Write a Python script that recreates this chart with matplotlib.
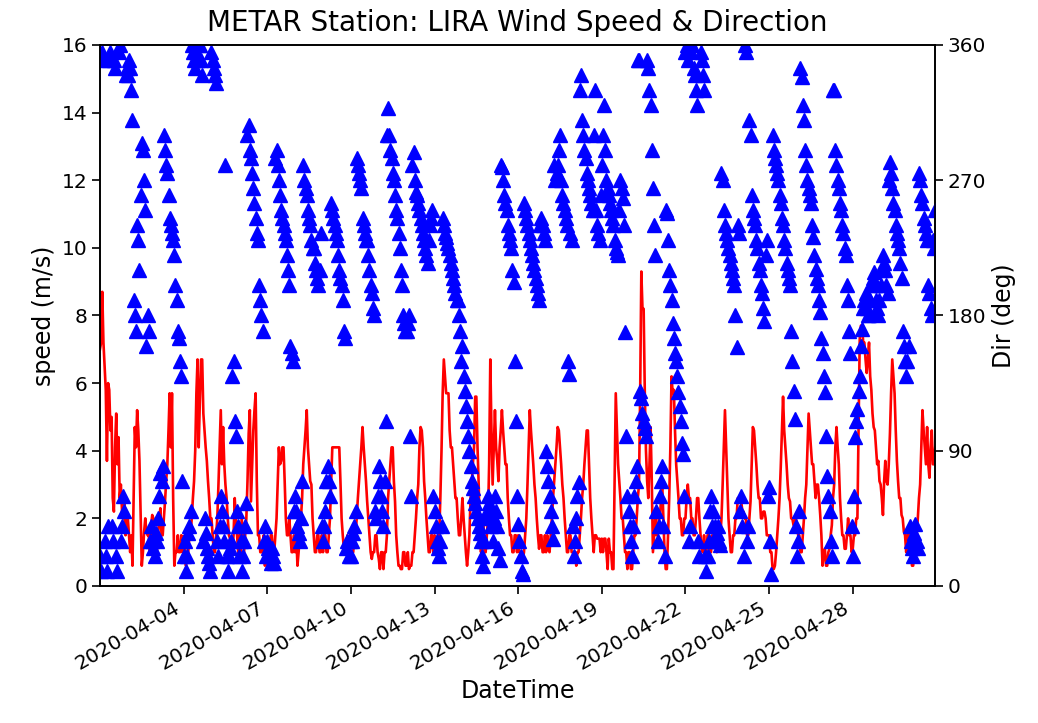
import matplotlib
matplotlib.use("Agg")
import matplotlib.pyplot as plt
import matplotlib.dates as mdates
import pandas as pd

# hourly samples from 2020-04-01 00:00, one row per day
speed = [
    7.0, 7.2, 8.7, 7.2, 6.5, 5.8, 3.7, 6.0, 5.8, 4.6, 5.0, 2.6, 2.2, 4.1, 5.1, 3.6, 4.4, 2.6, 3.0, 2.2, 2.0, 2.6, 1.5, 2.0,  # 04-01
    2.0, 1.5, 1.0, 1.5, 0.6, 2.6, 4.7, 4.1, 5.2, 4.6, 3.7, 2.1, 0.6, 1.0, 1.6, 2.0, 1.6, 1.5, 1.5, 1.0, 1.8, 2.1, 2.0, 1.5,  # 04-02
    1.5, 1.0, 1.5, 2.0, 2.3, 1.5, 1.5, 2.0, 2.5, 3.1, 3.6, 4.6, 5.7, 4.1, 5.7, 2.6, 0.6, 1.0, 1.0, 1.5, 1.0, 1.0, 1.5, 1.0,  # 04-03
    1.0, 1.5, 0.6, 1.0, 1.0, 1.5, 1.5, 2.0, 2.6, 3.1, 4.0, 5.7, 6.7, 4.1, 5.5, 6.7, 6.7, 5.1, 4.6, 4.1, 3.7, 3.1, 2.6, 2.0,  # 04-04
    2.0, 1.5, 1.0, 1.0, 1.5, 2.0, 3.0, 4.1, 5.2, 3.6, 4.7, 3.6, 3.0, 2.6, 2.0, 1.5, 1.4, 1.0, 1.0, 1.5, 2.6, 2.0, 1.5, 1.0,  # 04-05
    1.5, 1.0, 2.0, 1.5, 1.0, 1.5, 2.0, 3.1, 4.5, 5.2, 2.5, 3.6, 4.6, 5.2, 5.7, 3.1, 1.5, 1.5, 1.0, 1.0, 1.0, 1.5, 0.6, 1.0,  # 04-06
    0.6, 1.0, 1.0, 1.5, 1.5, 1.0, 1.0, 1.5, 2.0, 3.1, 4.1, 3.6, 3.7, 4.1, 4.1, 3.1, 2.0, 1.5, 1.5, 2.0, 1.5, 1.0, 1.0, 1.5,  # 04-07
    1.0, 1.5, 0.6, 1.0, 1.5, 2.0, 2.6, 3.6, 4.1, 4.6, 5.2, 4.1, 3.6, 3.1, 3.0, 2.0, 1.5, 1.0, 1.0, 1.5, 1.5, 1.0, 1.0, 1.5,  # 04-08
    1.0, 1.5, 1.5, 1.0, 1.0, 1.5, 2.0, 3.1, 4.1, 4.1, 4.1, 4.1, 4.1, 4.1, 4.1, 3.1, 2.0, 1.5, 1.1, 1.0, 1.0, 1.5, 1.0, 1.0,  # 04-09
    1.0, 1.0, 1.0, 1.5, 1.5, 2.0, 2.6, 3.1, 3.6, 4.1, 4.7, 4.1, 3.6, 3.1, 2.5, 2.0, 1.5, 1.0, 0.8, 1.0, 1.0, 1.5, 1.5, 1.0,  # 04-10
    0.8, 0.5, 1.0, 1.0, 0.5, 1.0, 1.0, 1.5, 2.6, 3.1, 3.6, 4.1, 4.1, 3.1, 2.5, 1.5, 1.0, 0.6, 0.6, 0.5, 0.5, 1.0, 1.0, 0.6,  # 04-11
    0.6, 1.0, 0.5, 0.6, 0.6, 1.0, 1.0, 1.5, 2.0, 2.6, 3.0, 4.1, 4.7, 4.6, 4.1, 3.1, 2.6, 2.0, 1.5, 1.0, 1.0, 1.5, 1.5, 1.0,  # 04-12
    1.5, 1.0, 1.0, 1.5, 1.5, 2.6, 4.0, 5.7, 6.7, 6.2, 5.7, 5.7, 5.7, 4.6, 4.1, 4.1, 3.6, 3.1, 2.6, 2.6, 2.0, 1.5, 1.5, 2.0,  # 04-13
    2.6, 2.0, 1.5, 1.0, 0.6, 1.0, 1.5, 2.6, 3.0, 3.6, 4.1, 5.6, 5.6, 4.1, 3.0, 1.5, 1.0, 1.5, 2.0, 1.0, 1.0, 1.5, 2.0, 3.6,  # 04-14
    6.7, 4.6, 3.0, 4.1, 5.2, 4.1, 3.7, 3.1, 4.1, 4.6, 5.2, 4.6, 4.1, 3.6, 3.6, 2.6, 2.0, 1.5, 1.5, 1.0, 1.0, 1.5, 1.5, 1.0,  # 04-15
    1.5, 1.0, 1.0, 0.8, 0.8, 1.0, 1.5, 2.0, 3.0, 4.1, 5.2, 4.6, 4.1, 3.6, 3.0, 2.6, 2.0, 1.5, 1.1, 1.5, 1.5, 1.0, 1.0, 1.5,  # 04-16
    1.0, 1.5, 1.1, 1.0, 1.5, 2.0, 2.6, 3.1, 3.6, 4.1, 4.7, 4.6, 4.1, 3.6, 3.0, 2.6, 2.0, 1.5, 1.0, 1.0, 1.5, 1.5, 1.0, 1.0,  # 04-17
    1.0, 1.0, 0.6, 1.0, 1.0, 1.5, 2.0, 2.6, 3.0, 3.6, 4.1, 4.6, 4.6, 3.6, 2.6, 2.0, 1.5, 1.0, 1.5, 1.5, 1.4, 1.4, 1.4, 1.0,  # 04-18
    1.4, 1.0, 1.4, 1.4, 1.0, 0.5, 1.4, 1.0, 1.0, 0.5, 0.5, 3.1, 5.7, 4.6, 3.6, 3.1, 2.6, 2.0, 2.0, 1.5, 1.0, 1.0, 0.5, 1.0,  # 04-19
    1.0, 0.5, 0.5, 1.0, 1.5, 1.5, 2.0, 2.6, 3.0, 5.7, 9.3, 8.2, 8.2, 5.7, 4.0, 3.1, 2.6, 3.6, 4.7, 3.1, 1.0, 1.5, 2.0, 1.5,  # 04-20
    1.5, 2.0, 2.0, 2.6, 3.0, 2.0, 1.0, 0.5, 0.5, 1.5, 2.6, 4.1, 6.2, 5.7, 5.8, 4.6, 3.6, 3.1, 2.6, 2.0, 2.0, 1.5, 1.5, 2.0,  # 04-21
    2.0, 2.6, 3.0, 2.6, 2.6, 2.0, 2.0, 1.5, 1.5, 2.0, 2.6, 2.6, 2.0, 1.5, 1.1, 1.0, 1.5, 1.0, 1.0, 1.5, 1.5, 1.0, 1.0, 1.5,  # 04-22
    1.2, 1.5, 1.5, 1.0, 1.2, 1.5, 1.5, 2.0, 3.0, 4.1, 5.2, 4.1, 3.0, 2.0, 1.5, 1.0, 1.0, 1.5, 1.5, 2.0, 2.0, 2.6, 2.6, 2.5,  # 04-23
    2.5, 2.2, 2.2, 2.0, 2.0, 1.5, 1.5, 2.0, 2.5, 3.6, 4.7, 4.6, 4.1, 3.6, 3.0, 2.6, 2.6, 2.0, 2.0, 2.2, 2.2, 2.0, 1.5, 1.5,  # 04-24
    1.5, 1.0, 1.0, 0.5, 0.5, 0.6, 1.0, 1.5, 2.0, 2.6, 3.5, 4.6, 5.6, 4.6, 4.1, 3.6, 3.0, 2.6, 2.5, 2.0, 2.0, 1.8, 1.8, 2.0,  # 04-25
    1.8, 1.5, 1.5, 1.0, 1.0, 1.5, 2.0, 2.6, 3.0, 4.1, 5.1, 4.6, 4.1, 3.6, 3.6, 3.1, 2.6, 3.0, 3.0, 2.6, 2.1, 1.5, 0.6, 1.0,  # 04-26
    1.1, 0.6, 0.6, 1.0, 1.1, 1.5, 1.8, 2.6, 3.0, 4.1, 4.7, 4.1, 3.6, 2.6, 2.0, 1.5, 1.5, 1.1, 1.1, 1.5, 2.0, 1.5, 1.5, 1.0,  # 04-27
    1.1, 1.5, 1.5, 2.0, 2.0, 4.6, 7.3, 7.7, 7.7, 7.2, 7.2, 6.7, 6.3, 6.7, 7.2, 6.2, 5.8, 5.1, 4.7, 4.6, 4.1, 3.6, 3.7, 3.1,  # 04-28
    3.0, 2.6, 2.1, 3.1, 3.7, 3.1, 3.0, 3.6, 4.5, 5.7, 6.7, 6.2, 5.7, 4.6, 3.7, 3.1, 2.6, 2.6, 2.1, 2.0, 1.6, 1.5, 1.0, 1.5,  # 04-29
    1.6, 1.0, 1.0, 0.6, 0.6, 1.0, 1.0, 1.5, 2.0, 2.6, 3.0, 4.1, 5.2, 4.6, 4.1, 3.6, 4.7, 3.6, 3.2, 4.1, 4.6, 3.6, 3.6, 4.1,  # 04-30
]

direction = [
    20, 10, 355, 350, 30, 20, 10, 40, 350, 355, 40, 30, 350, 345, 20, 10, 355, 360, 30, 40, 60, 50, 340, 345,  # 04-01
    340, 350, 345, 330, 310, 190, 180, 170, 240, 230, 210, 260, 295, 290, 270, 250, 160, 180, 170, 30, 40, 30, 25, 20,  # 04-02
    35, 30, 45, 60, 75, 70, 80, 300, 290, 280, 275, 260, 245, 240, 235, 230, 220, 200, 190, 170, 165, 150, 140, 70,  # 04-03
    20, 30, 10, 20, 35, 40, 50, 360, 355, 350, 345, 355, 350, 360, 360, 350, 340, 30, 45, 35, 25, 20, 15, 10,  # 04-04
    355, 350, 345, 340, 335, 30, 20, 40, 60, 50, 40, 30, 280, 20, 10, 20, 25, 30, 140, 150, 110, 100, 50, 40,  # 04-05
    20, 30, 10, 20, 30, 40, 55, 300, 307, 290, 285, 275, 265, 255, 245, 235, 230, 200, 190, 180, 170, 30, 40, 20,  # 04-06
    30, 25, 20, 15, 25, 20, 15, 285, 290, 280, 270, 260, 250, 245, 240, 235, 230, 220, 210, 200, 160, 155, 150, 50,  # 04-07
    60, 50, 40, 35, 30, 45, 70, 280, 270, 265, 260, 250, 245, 240, 230, 225, 225, 215, 210, 205, 200, 210, 235, 40,  # 04-08
    30, 40, 50, 70, 80, 70, 60, 255, 250, 245, 240, 235, 230, 220, 210, 205, 200, 190, 170, 165, 25, 30, 20, 30,  # 04-09
    20, 30, 35, 40, 50, 285, 280, 275, 270, 265, 245, 240, 235, 230, 230, 220, 210, 200, 195, 185, 180, 50, 45, 60,  # 04-10
    80, 70, 60, 50, 40, 70, 110, 300, 318, 300, 290, 285, 275, 270, 260, 250, 245, 235, 225, 210, 200, 180, 175, 170,  # 04-11
    170, 175, 180, 100, 60, 280, 289, 270, 262, 260, 255, 250, 245, 240, 235, 230, 225, 220, 215, 230, 240, 245, 250, 60,  # 04-12
    50, 40, 30, 25, 20, 30, 40, 245, 240, 235, 232, 228, 225, 220, 215, 210, 205, 200, 195, 190, 190, 180, 170, 150,  # 04-13
    160, 140, 130, 120, 110, 100, 90, 80, 70, 65, 60, 55, 50, 45, 40, 35, 30, 20, 13, 30, 45, 50, 60, 55,  # 04-14
    50, 40, 30, 45, 60, 50, 40, 25, 17, 280, 279, 270, 260, 255, 250, 240, 235, 230, 225, 210, 202, 150, 110, 60,  # 04-15
    41, 30, 20, 10, 8, 255, 250, 245, 240, 235, 230, 225, 220, 215, 210, 205, 200, 195, 190, 240, 245, 240, 235, 230,  # 04-16
    90, 80, 70, 60, 50, 40, 31, 280, 270, 275, 280, 290, 300, 270, 260, 255, 250, 245, 240, 150, 141, 235, 230, 40,  # 04-17
    20, 30, 45, 60, 69, 330, 340, 310, 300, 290, 285, 275, 270, 265, 260, 255, 250, 300, 330, 250, 240, 235, 230, 260,  # 04-18
    280, 300, 320, 290, 270, 265, 260, 255, 250, 245, 240, 230, 225, 222, 220, 250, 270, 265, 258, 240, 169, 100, 60, 50,  # 04-19
    40, 30, 20, 40, 60, 70, 80, 350, 350, 130, 125, 115, 110, 105, 100, 350, 345, 330, 320, 290, 265, 240, 220, 50,  # 04-20
    30, 40, 60, 70, 80, 40, 20, 250, 248, 230, 210, 200, 190, 175, 165, 155, 150, 140, 129, 120, 110, 95, 88, 60,  # 04-21
    355, 360, 350, 30, 40, 355, 360, 345, 340, 330, 320, 30, 20, 355, 350, 340, 330, 20, 10, 20, 30, 50, 60, 40,  # 04-22
    50, 40, 30, 35, 40, 30, 27, 275, 270, 250, 240, 235, 230, 225, 220, 215, 210, 205, 200, 180, 159, 240, 235, 50,  # 04-23
    60, 40, 20, 360, 355, 30, 40, 310, 300, 260, 250, 245, 240, 230, 225, 215, 210, 200, 195, 185, 176, 220, 230, 60,  # 04-24
    66, 30, 8, 300, 290, 285, 280, 275, 270, 260, 255, 245, 240, 230, 225, 215, 210, 205, 200, 170, 150, 130, 111, 40,  # 04-25
    20, 30, 50, 345, 339, 320, 310, 290, 280, 270, 265, 260, 255, 240, 232, 220, 211, 205, 200, 190, 182, 165, 155, 140,  # 04-26
    129, 100, 73, 60, 50, 30, 20, 330, 330, 290, 280, 270, 265, 255, 250, 240, 235, 225, 220, 200, 190, 170, 155, 40,  # 04-27
    20, 60, 99, 110, 118, 130, 140, 160, 171, 185, 190, 195, 185, 180, 180, 190, 200, 205, 209, 200, 190, 185, 180, 190,  # 04-28
    200, 210, 220, 215, 210, 200, 195, 270, 282, 275, 265, 255, 250, 240, 235, 230, 225, 215, 205, 170, 160, 150, 140, 150,  # 04-29
    160, 40, 30, 25, 20, 35, 41, 30, 25, 275, 270, 260, 255, 245, 240, 235, 230, 200, 195, 185, 180, 230, 225, 250,  # 04-30
]

times = pd.date_range("2020-04-01 00:00", periods=len(speed), freq="h")

fig, ax = plt.subplots(figsize=(10.38, 7.23), dpi=100)
fig.subplots_adjust(left=0.0963, right=0.901, bottom=0.1895, top=0.9378)

ax.plot(times, speed, "r-", lw=1.9)
ax.set_ylim(0, 16)
ax.set_xlim(times[0], times[-1])
ax.set_ylabel("speed (m/s)", fontsize=17)
ax.set_xlabel("DateTime", fontsize=17)
ax.set_title("METAR Station: LIRA Wind Speed & Direction", fontsize=20, pad=10)

ax.xaxis.set_major_locator(mdates.DayLocator(bymonthday=range(4, 29, 3)))
ax.xaxis.set_major_formatter(mdates.DateFormatter("%Y-%m-%d"))
plt.setp(ax.get_xticklabels(), rotation=30, ha="right")

ax2 = ax.twinx()
ax2.plot(times, direction, "b^", ms=9.5)
ax2.set_ylim(0, 360)
ax2.set_yticks([0, 90, 180, 270, 360])
ax2.set_ylabel("Dir (deg)", fontsize=17)

for a in (ax, ax2):
    a.tick_params(labelsize=14.5, length=5.5, width=1.2)
    for s in a.spines.values():
        s.set_linewidth(1.2)

fig.savefig("out.png", dpi=100)
